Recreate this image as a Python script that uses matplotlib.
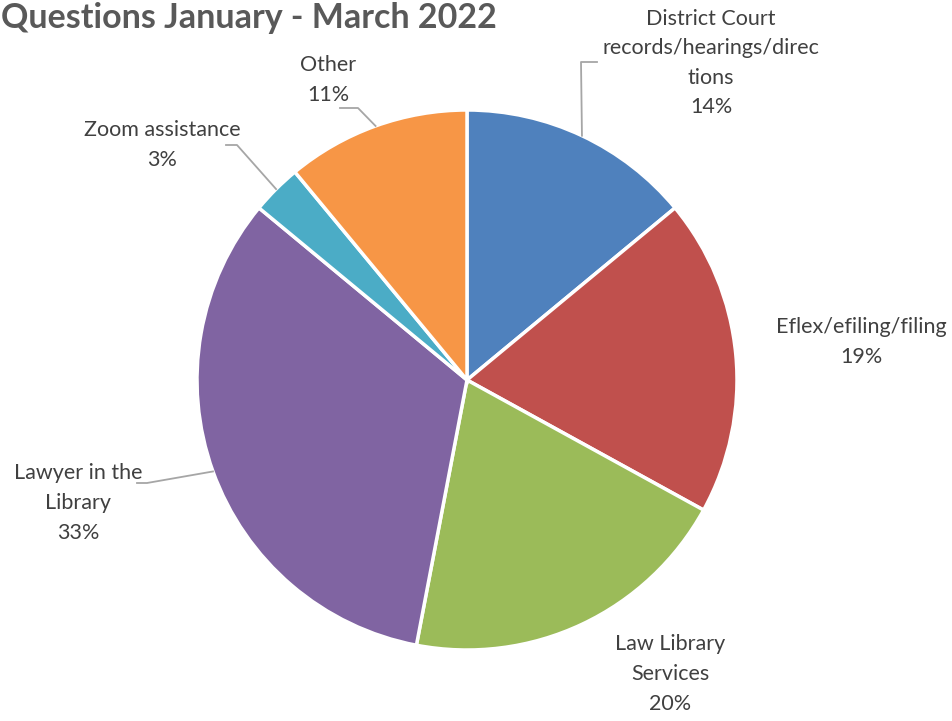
import numpy as np
import matplotlib.pyplot as plt

# data
categories = ['District Court\nrecords/hearings/direc\ntions', 'Eflex/efiling/filing',
              'Law Library\nServices', 'Lawyer in the\nLibrary', 'Zoom assistance', 'Other']
shares = [14, 19, 20, 33, 3, 11]
colors = ['#4F81BD', '#C0504D', '#9BBB59', '#8064A2', '#4BACC6', '#F79646']

# label layout (pixel coords of label centre) and leader line path
label_xy = [(711, 63), (861, 342), (670, 674), (78, 503), (162, 145), (328, 80)]
leader_end = [(597, 62), None, None, (137, 483), (226, 145), (340, 108)]
leader_knee = [(581, 62), None, None, (147, 483), (237, 145), (358, 108)]

W, H = 953, 721
fig = plt.figure(figsize=(W / 100, H / 100), dpi=100)
ax = fig.add_axes([0, 0, 1, 1])
ax.set_xlim(0, W)
ax.set_ylim(H, 0)
ax.set_aspect('equal')
ax.axis('off')

cx, cy, r = 467, 380, 270
# y axis is inverted, so counterclock=True in data space gives clockwise on screen
wedges, _ = ax.pie(shares, colors=colors, center=(cx, cy), radius=r,
                   startangle=-90, counterclock=True,
                   wedgeprops=dict(edgecolor='white', linewidth=2.5))
ax.set_xlim(0, W)
ax.set_ylim(H, 0)

txt_color = '#404040'
font = ['Lato', 'DejaVu Sans']
for i, (lab, val) in enumerate(zip(categories, shares)):
    w = wedges[i]
    mid = np.deg2rad((w.theta1 + w.theta2) / 2)
    px, py = cx + r * np.cos(mid), cy + r * np.sin(mid)
    if leader_end[i] is not None:
        kx, ky = leader_knee[i]
        ex, ey = leader_end[i]
        ax.plot([px, kx, ex], [py, ky, ey], color='#A6A6A6', lw=1.3, zorder=1)
    ax.text(label_xy[i][0], label_xy[i][1], f'{lab}\n{val}%', ha='center', va='center',
            fontsize=15.5, color=txt_color, family=font, linespacing=1.6)

ax.text(1, 18, 'Questions January - March 2022', ha='left', va='center',
        fontsize=24.5, fontweight='bold', color='#595959', family=font)

fig.savefig('out.png', dpi=100)
